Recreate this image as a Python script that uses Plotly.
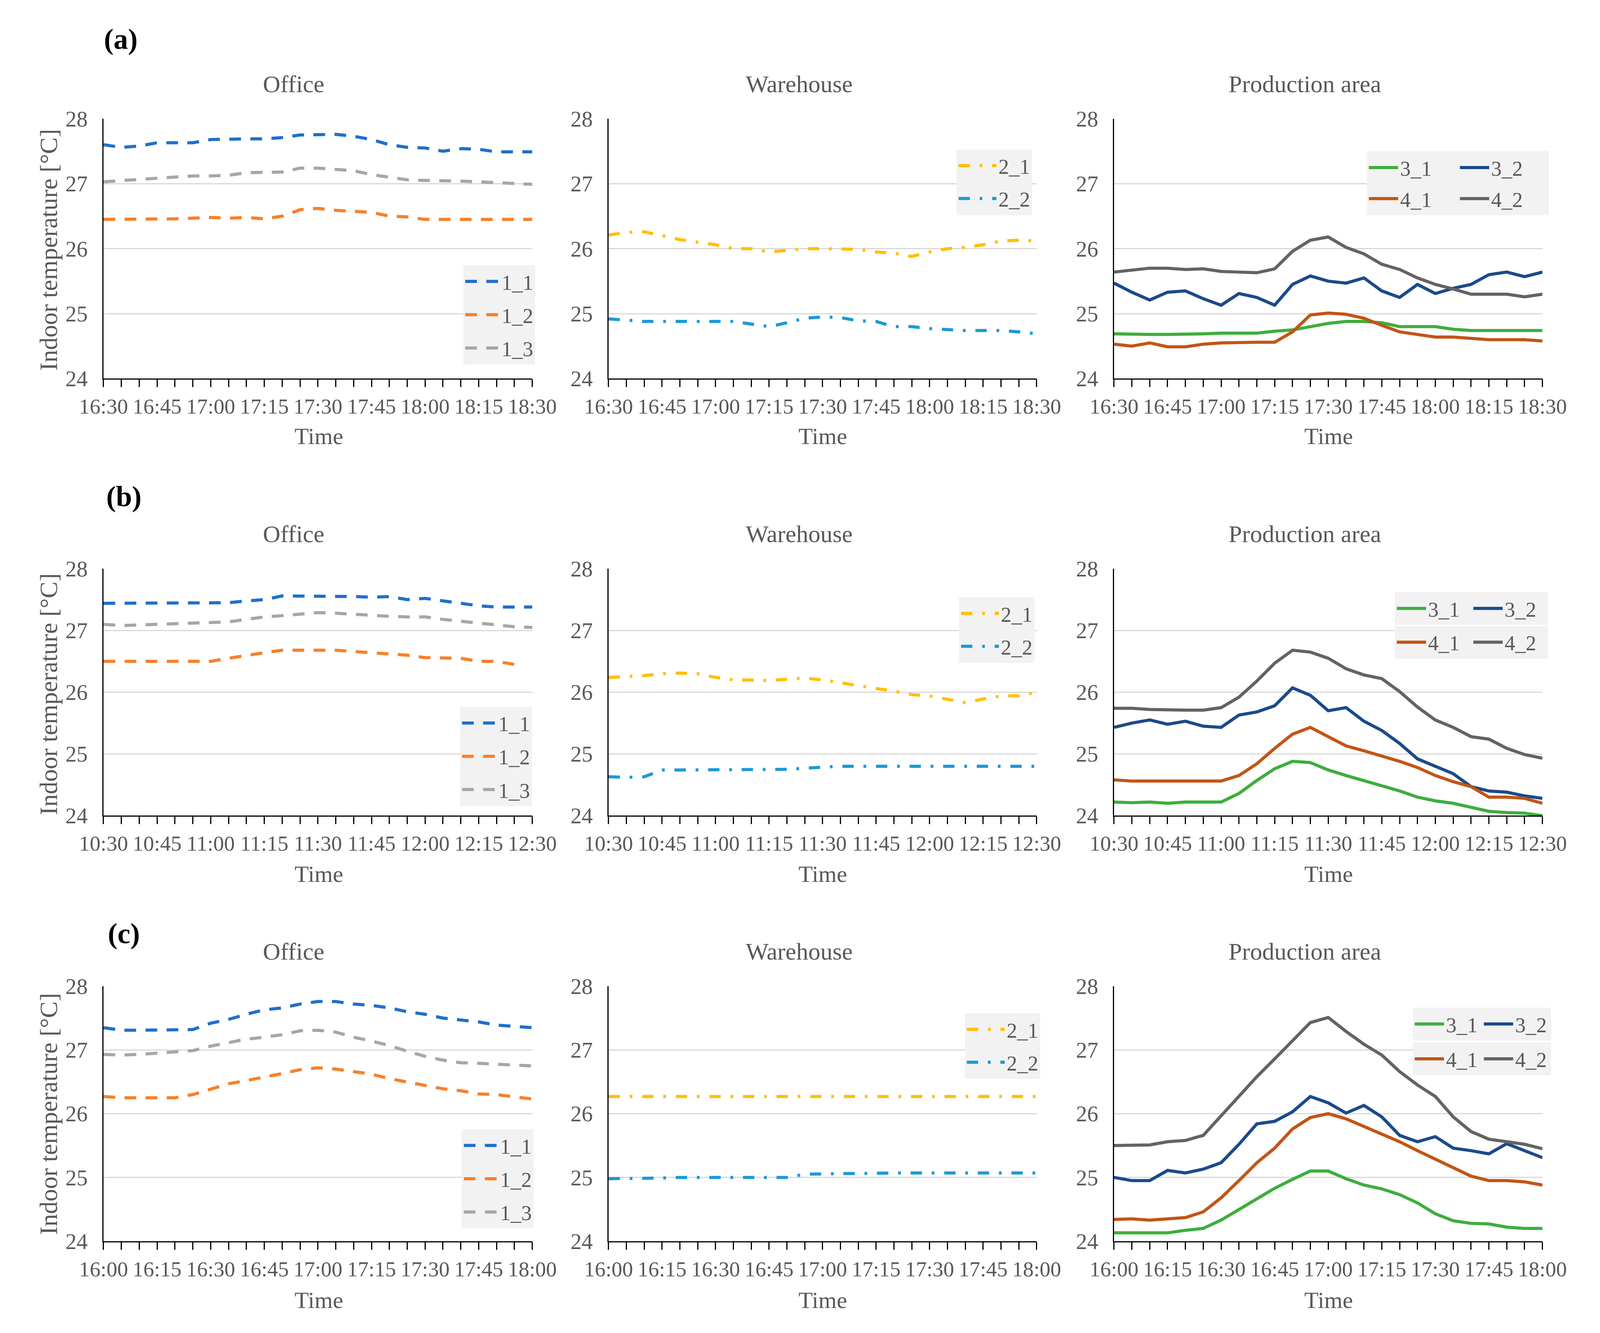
import pandas as pd
import plotly.graph_objects as go

# the photographed page is only 4096 px wide (body margin 8 px), so the
# figure is fitted into that and reference pixel positions are mapped to it
REF_W, REF_H = 4329, 3413
PAGE_W, BODY = 4096, 8
W, H = PAGE_W - BODY, REF_H - BODY
SX = PAGE_W / REF_W

FONT = "Liberation Serif"
TXT = "#595959"

# start of each two-hour window; readings are taken every 5 minutes (25 per sensor)
start_a = "2021-07-01 16:30"
start_b = "2021-07-01 10:30"
start_c = "2021-07-01 16:00"

# ---- (a) ----
office_a_11 = [27.60, 27.56, 27.58, 27.63, 27.63, 27.63, 27.68, 27.69, 27.69, 27.69, 27.71, 27.75, 27.75,
               27.76, 27.73, 27.68, 27.60, 27.56, 27.55, 27.50, 27.54, 27.53, 27.49, 27.49, 27.49]
office_a_12 = [26.45, 26.45, 26.45, 26.45, 26.46, 26.47, 26.48, 26.47, 26.48, 26.46, 26.50, 26.60, 26.62,
               26.59, 26.57, 26.56, 26.50, 26.49, 26.45, 26.45, 26.45, 26.45, 26.45, 26.45, 26.45]
office_a_13 = [27.03, 27.05, 27.06, 27.08, 27.10, 27.12, 27.12, 27.13, 27.17, 27.17, 27.18, 27.24, 27.24,
               27.22, 27.20, 27.14, 27.10, 27.06, 27.05, 27.05, 27.04, 27.03, 27.02, 27.00, 26.99]
wh_a_21 = [26.21, 26.25, 26.26, 26.20, 26.14, 26.10, 26.06, 26.00, 26.00, 25.95, 25.97, 26.00, 26.00,
           26.00, 25.99, 25.95, 25.93, 25.88, 25.95, 26.00, 26.02, 26.06, 26.12, 26.13, 26.12]
wh_a_22 = [24.92, 24.90, 24.88, 24.88, 24.88, 24.88, 24.88, 24.88, 24.84, 24.80, 24.86, 24.93, 24.95,
           24.94, 24.89, 24.88, 24.80, 24.80, 24.77, 24.75, 24.74, 24.74, 24.74, 24.72, 24.69]
prod_a_31 = [24.69, 24.68, 24.68, 24.68, 24.68, 24.69, 24.70, 24.70, 24.70, 24.73, 24.75, 24.80, 24.85,
             24.88, 24.88, 24.86, 24.80, 24.80, 24.80, 24.76, 24.74, 24.74, 24.74, 24.74, 24.74]
prod_a_32 = [25.47, 25.33, 25.21, 25.33, 25.35, 25.23, 25.13, 25.31, 25.25, 25.13, 25.45, 25.58, 25.50,
             25.47, 25.55, 25.35, 25.25, 25.45, 25.31, 25.39, 25.45, 25.60, 25.64, 25.57, 25.64]
prod_a_41 = [24.53, 24.50, 24.55, 24.49, 24.49, 24.53, 24.55, 24.56, 24.56, 24.56, 24.72, 24.98, 25.01,
             24.99, 24.93, 24.82, 24.72, 24.68, 24.64, 24.64, 24.62, 24.60, 24.60, 24.60, 24.58]
prod_a_42 = [25.64, 25.67, 25.70, 25.70, 25.68, 25.69, 25.65, 25.64, 25.63, 25.69, 25.96, 26.13, 26.18,
             26.02, 25.92, 25.76, 25.68, 25.55, 25.45, 25.38, 25.30, 25.30, 25.30, 25.26, 25.30]

# ---- (b) ----
office_b_11 = [27.44, 27.44, 27.44, 27.44, 27.44, 27.44, 27.44, 27.45, 27.48, 27.50, 27.56, 27.56, 27.56,
               27.56, 27.55, 27.54, 27.55, 27.50, 27.52, 27.48, 27.44, 27.40, 27.38, 27.38, 27.38]
office_b_12 = [26.50, 26.50, 26.50, 26.50, 26.50, 26.50, 26.50, 26.55, 26.60, 26.64, 26.68, 26.68, 26.68,
               26.68, 26.66, 26.64, 26.62, 26.60, 26.56, 26.56, 26.55, 26.50, 26.50, 26.45, None]
office_b_13 = [27.10, 27.08, 27.09, 27.10, 27.10, 27.12, 27.12, 27.14, 27.18, 27.22, 27.24, 27.26, 27.29,
               27.28, 27.26, 27.25, 27.23, 27.22, 27.22, 27.18, 27.15, 27.12, 27.10, 27.06, 27.05]
wh_b_21 = [26.24, 26.25, 26.27, 26.30, 26.31, 26.30, 26.24, 26.20, 26.19, 26.19, 26.21, 26.23, 26.20,
           26.15, 26.11, 26.06, 26.02, 25.96, 25.94, 25.88, 25.83, 25.89, 25.94, 25.94, 26.00]
wh_b_22 = [24.63, 24.62, 24.63, 24.74, 24.74, 24.74, 24.74, 24.74, 24.74, 24.74, 24.75, 24.77, 24.79,
           24.80, 24.80, 24.80, 24.80, 24.80, 24.80, 24.80, 24.80, 24.80, 24.80, 24.80, 24.80]
prod_b_31 = [24.22, 24.21, 24.22, 24.20, 24.22, 24.22, 24.22, 24.36, 24.57, 24.76, 24.88, 24.86, 24.74,
             24.65, 24.57, 24.49, 24.40, 24.30, 24.24, 24.20, 24.13, 24.07, 24.05, 24.04, 24.00]
prod_b_32 = [25.43, 25.50, 25.55, 25.48, 25.53, 25.45, 25.43, 25.63, 25.68, 25.78, 26.07, 25.95, 25.70,
             25.75, 25.53, 25.38, 25.17, 24.92, 24.80, 24.68, 24.47, 24.40, 24.38, 24.32, 24.28]
prod_b_41 = [24.58, 24.56, 24.56, 24.56, 24.56, 24.56, 24.56, 24.65, 24.84, 25.09, 25.32, 25.43, 25.28,
             25.13, 25.05, 24.97, 24.88, 24.78, 24.65, 24.55, 24.47, 24.30, 24.30, 24.28, 24.20]
prod_b_42 = [25.74, 25.74, 25.72, 25.71, 25.71, 25.71, 25.75, 25.92, 26.18, 26.47, 26.68, 26.65, 26.55,
             26.38, 26.28, 26.22, 26.01, 25.76, 25.55, 25.43, 25.28, 25.24, 25.09, 24.99, 24.93]

# ---- (c) ----
office_c_11 = [27.35, 27.31, 27.31, 27.31, 27.31, 27.32, 27.42, 27.48, 27.56, 27.63, 27.66, 27.72, 27.76,
               27.76, 27.72, 27.70, 27.66, 27.60, 27.56, 27.50, 27.47, 27.44, 27.39, 27.37, 27.35]
office_c_12 = [26.27, 26.25, 26.25, 26.25, 26.25, 26.30, 26.38, 26.47, 26.52, 26.57, 26.63, 26.69, 26.72,
               26.70, 26.66, 26.62, 26.55, 26.50, 26.44, 26.39, 26.36, 26.31, 26.30, 26.26, 26.23]
office_c_13 = [26.93, 26.92, 26.93, 26.95, 26.96, 26.99, 27.06, 27.11, 27.17, 27.20, 27.24, 27.30, 27.31,
               27.28, 27.20, 27.14, 27.07, 26.98, 26.90, 26.84, 26.80, 26.79, 26.78, 26.76, 26.75]
wh_c_21 = [26.27, 26.27, 26.27, 26.27, 26.27, 26.27, 26.27, 26.27, 26.27, 26.27, 26.27, 26.27, 26.27,
           26.27, 26.27, 26.27, 26.27, 26.27, 26.27, 26.27, 26.27, 26.27, 26.27, 26.27, 26.27]
wh_c_22 = [24.98, 24.98, 24.98, 24.99, 25.00, 25.00, 25.00, 25.00, 25.00, 25.00, 25.00, 25.05, 25.06,
           25.06, 25.06, 25.07, 25.07, 25.07, 25.07, 25.07, 25.07, 25.07, 25.07, 25.07, 25.07]
prod_c_31 = [24.13, 24.13, 24.14, 24.13, 24.17, 24.20, 24.33, 24.50, 24.67, 24.83, 24.97, 25.10, 25.10,
             24.98, 24.88, 24.82, 24.73, 24.60, 24.43, 24.32, 24.28, 24.27, 24.22, 24.20, 24.20]
prod_c_32 = [25.00, 24.95, 24.95, 25.11, 25.07, 25.13, 25.23, 25.52, 25.84, 25.88, 26.03, 26.27, 26.17,
             26.01, 26.13, 25.95, 25.66, 25.56, 25.64, 25.46, 25.42, 25.37, 25.53, 25.42, 25.31]
prod_c_41 = [24.34, 24.35, 24.33, 24.35, 24.37, 24.46, 24.68, 24.95, 25.23, 25.46, 25.76, 25.94, 26.00,
             25.92, 25.80, 25.68, 25.56, 25.42, 25.29, 25.15, 25.02, 24.95, 24.95, 24.93, 24.88]
prod_c_42 = [25.50, 25.50, 25.51, 25.56, 25.58, 25.66, 25.97, 26.27, 26.58, 26.86, 27.15, 27.43, 27.51,
             27.29, 27.09, 26.92, 26.66, 26.45, 26.27, 25.95, 25.72, 25.60, 25.56, 25.52, 25.45]

panel_letters = ["(a)", "(b)", "(c)"]
zone_titles = ["Office", "Warehouse", "Production area"]
starts = [start_a, start_b, start_c]

rows = [
    [[("1_1", office_a_11), ("1_2", office_a_12), ("1_3", office_a_13)],
     [("2_1", wh_a_21), ("2_2", wh_a_22)],
     [("3_1", prod_a_31), ("3_2", prod_a_32), ("4_1", prod_a_41), ("4_2", prod_a_42)]],
    [[("1_1", office_b_11), ("1_2", office_b_12), ("1_3", office_b_13)],
     [("2_1", wh_b_21), ("2_2", wh_b_22)],
     [("3_1", prod_b_31), ("3_2", prod_b_32), ("4_1", prod_b_41), ("4_2", prod_b_42)]],
    [[("1_1", office_c_11), ("1_2", office_c_12), ("1_3", office_c_13)],
     [("2_1", wh_c_21), ("2_2", wh_c_22)],
     [("3_1", prod_c_31), ("3_2", prod_c_32), ("4_1", prod_c_41), ("4_2", prod_c_42)]],
]

colors = {"1_1": "#1F6FCB", "1_2": "#F7802A", "1_3": "#A6A6A6",
          "2_1": "#FFC000", "2_2": "#1C9AD6",
          "3_1": "#3DAE3D", "3_2": "#1B4A8A", "4_1": "#C25516", "4_2": "#636363"}
dashes = ["30px,24px", "29px,25px,7px,25px", "solid"]
widths = [8, 8, 8]

# reference pixel layout (plot boxes, labels, legends)
col_x = [(220, 1417), (1630, 2825), (3041, 4237)]
row_y = [(278, 956), (1452, 2096), (2541, 3206)]
title_x = [751, 2162, 3574]
title_y = [187, 1361, 2450]
time_x = [821, 2228, 3640]
time_y = [1106, 2248, 3360]
letter_pos = [(268, 70), (277, 1263), (277, 2403)]
ytitle_y = [620, 1779, 2874]
office_leg = [(1425, 660), (1416, 1812), (1421, 2914)]
wh_leg = [(2812, 358), (2819, 1526), (2835, 2611)]
prod_leg = [(3747, 363, 143, 81), (3825, 1513, 106, 88), (3875, 2597, 87, 91)]


def fx(p):
    return (p * SX - BODY) / W


def fy(p):
    return 1 - (p - BODY) / H


def note(text, x, y, size, color=TXT, angle=0):
    return dict(text=text, x=fx(x), y=fy(y), xref="paper", yref="paper",
                xanchor="center", yanchor="middle", showarrow=False, textangle=angle,
                font=dict(family=FONT, size=size, color=color))


fig = go.Figure()
layout = {}
annotations = []

for r in range(3):
    times = pd.date_range(starts[r], periods=25, freq="5min")
    for c in range(3):
        n = r * 3 + c + 1
        xs = "x" if n == 1 else f"x{n}"
        ys = "y" if n == 1 else f"y{n}"
        for name, vals in rows[r][c]:
            if c == 0:
                leg = 4 * r + 1
            elif c == 1:
                leg = 4 * r + 2
            else:
                leg = 4 * r + 3 if name.startswith("3") else 4 * r + 4
            fig.add_trace(go.Scatter(
                x=times, y=vals, mode="lines", name=name,
                xaxis=xs, yaxis=ys,
                legend="legend" if leg == 1 else f"legend{leg}",
                legendgroup=f"{r}{name}",
                line=dict(color=colors[name], width=widths[c], dash=dashes[c]),
            ))

        layout["xaxis" if n == 1 else f"xaxis{n}"] = dict(
            domain=[fx(col_x[c][0]), fx(col_x[c][1])], anchor=ys,
            type="date", range=[times[0], times[-1]],
            tickformat="%H:%M", tick0=times[0], dtick=15 * 60 * 1000,
            ticks="outside", ticklen=19, tickwidth=3, tickcolor="black",
            minor=dict(dtick=5 * 60 * 1000, tick0=times[0], ticks="outside",
                       ticklen=19, tickwidth=3, tickcolor="black", showgrid=False),
            showline=True, linecolor="black", linewidth=3, showgrid=False,
            tickfont=dict(family=FONT, size=55, color=TXT), ticklabelstandoff=2,
        )
        layout["yaxis" if n == 1 else f"yaxis{n}"] = dict(
            domain=[fy(row_y[r][1]), fy(row_y[r][0])], anchor=xs,
            range=[24, 28], tick0=24, dtick=1,
            showgrid=True, gridcolor="#D9D9D9", gridwidth=3, zeroline=False,
            showline=True, linecolor="black", linewidth=3, ticks="",
            tickfont=dict(family=FONT, size=57, color=TXT), ticklabelstandoff=26,
        )

        annotations.append(note(zone_titles[c], title_x[c], title_y[r], 62))
        annotations.append(note("Time", time_x[c], time_y[r], 60))

    annotations.append(note("<b>" + panel_letters[r] + "</b>", letter_pos[r][0], letter_pos[r][1],
                            74, color="black"))
    annotations.append(note("Indoor temperature [°C]", 67, ytitle_y[r], 64, angle=-90))

    leg_font = dict(family=FONT, size=54, color=TXT)
    base = dict(bgcolor="#F2F2F2", borderwidth=0, font=leg_font)
    i1 = 4 * r + 1
    layout["legend" if i1 == 1 else f"legend{i1}"] = dict(
        base, itemwidth=88, x=fx(office_leg[r][0]), xanchor="right",
        y=fy(office_leg[r][1]), yanchor="top", tracegroupgap=12)
    layout[f"legend{4 * r + 2}"] = dict(
        base, itemwidth=97, x=fx(wh_leg[r][0]), xanchor="right",
        y=fy(wh_leg[r][1]), yanchor="top", tracegroupgap=11)
    px0, py0, ew, dy = prod_leg[r]
    layout[f"legend{4 * r + 3}"] = dict(
        base, itemwidth=75, orientation="h", entrywidth=ew,
        x=fx(px0), xanchor="left", y=fy(py0), yanchor="top")
    layout[f"legend{4 * r + 4}"] = dict(
        base, itemwidth=75, orientation="h", entrywidth=ew,
        x=fx(px0), xanchor="left", y=fy(py0 + dy), yanchor="top")

fig.update_layout(
    width=W, height=H,
    margin=dict(l=0, r=0, t=0, b=0),
    paper_bgcolor="white", plot_bgcolor="white",
    font=dict(family=FONT, color=TXT),
    annotations=annotations,
    **layout,
)

fig.write_html("out.html")
